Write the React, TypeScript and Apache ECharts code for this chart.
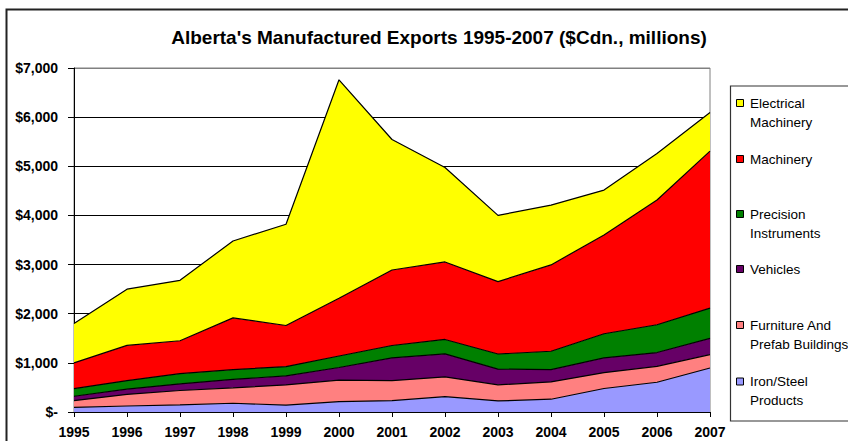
import React, { useEffect, useRef } from "react";
import * as echarts from "echarts";

const years = ["1995", "1996", "1997", "1998", "1999", "2000", "2001", "2002", "2003", "2004", "2005", "2006", "2007"];

const ironSteel = [95, 122, 143, 178, 140, 210, 232, 314, 225, 260, 478, 605, 895];
const furniture = [135, 236, 294, 314, 410, 440, 406, 400, 327, 352, 322, 325, 273];
const vehicles = [90, 107, 137, 171, 185, 255, 462, 468, 321, 249, 300, 280, 329];
const precision = [155, 175, 205, 199, 190, 235, 253, 294, 307, 375, 492, 566, 618];
const machinery = [525, 715, 671, 1053, 835, 1175, 1537, 1577, 1474, 1757, 2010, 2537, 3193];
const electrical = [800, 1145, 1230, 1565, 2060, 4445, 2655, 1923, 1346, 1218, 914, 948, 785];

const seriesNames = [
  "Iron/Steel Products",
  "Furniture And Prefab Buildings",
  "Vehicles",
  "Precision Instruments",
  "Machinery",
  "Electrical Machinery",
];
const legendLines = [
  ["Iron/Steel", "Products"],
  ["Furniture And", "Prefab Buildings"],
  ["Vehicles"],
  ["Precision", "Instruments"],
  ["Machinery"],
  ["Electrical", "Machinery"],
];
const seriesData = [ironSteel, furniture, vehicles, precision, machinery, electrical];
const seriesColors = ["#9999FF", "#FF8080", "#660066", "#008000", "#FF0000", "#FFFF00"];

const title = "Alberta's Manufactured Exports 1995-2007 ($Cdn., millions)";
const FONT = "'Liberation Sans', Arial, sans-serif";

export default function App() {
  const ref = useRef<HTMLDivElement>(null);

  useEffect(() => {
    if (!ref.current) return;
    const chart = echarts.init(ref.current, undefined, { renderer: "svg" });

    const legendEls: any[] = [];
    const legendY = [103, 159, 214, 269, 325, 381.5];
    for (let k = 0; k < seriesNames.length; k++) {
      const idx = seriesNames.length - 1 - k;
      const y = legendY[k];
      legendEls.push({
        type: "rect",
        shape: { x: 736.5, y: y - 3.5, width: 7, height: 7 },
        style: { fill: seriesColors[idx], stroke: "#000", lineWidth: 1 },
      });
      legendLines[idx].forEach((line, li) => {
        legendEls.push({
          type: "text",
          x: 750,
          y: y + li * 19,
          style: {
            text: line,
            fill: "#000",
            font: `13.5px ${FONT}`,
            textVerticalAlign: "middle",
            textAlign: "left",
          },
        });
      });
    }

    const option: any = {
      animation: false,
      backgroundColor: "#fff",
      title: {
        text: title,
        left: 434,
        top: 23,
        textAlign: "center",
        textStyle: { fontFamily: FONT, fontSize: 19, fontWeight: "bold", color: "#000" },
      },
      grid: {
        left: 74,
        top: 68,
        right: 138,
        bottom: 29,
        show: true,
        borderColor: "#808080",
        borderWidth: 1,
        backgroundColor: "transparent",
      },
      xAxis: {
        type: "category",
        data: years,
        boundaryGap: false,
        axisLine: { lineStyle: { color: "#000", width: 1 } },
        axisTick: { show: true, alignWithLabel: true, length: 5, lineStyle: { color: "#000" } },
        axisLabel: {
          color: "#000",
          fontFamily: FONT,
          fontSize: 14,
          fontWeight: "bold",
          margin: 13,
        },
        splitLine: { show: false },
      },
      yAxis: {
        type: "value",
        min: 0,
        max: 7000,
        interval: 1000,
        axisLine: { show: true, lineStyle: { color: "#000", width: 1 } },
        axisTick: { show: true, length: 6, lineStyle: { color: "#000" } },
        axisLabel: {
          color: "#000",
          fontFamily: FONT,
          fontSize: 14,
          fontWeight: "bold",
          margin: 16,
          formatter: (v: number) => (v === 0 ? "$-" : "$" + v.toLocaleString("en-US")),
        },
        splitLine: {
          show: true,
          lineStyle: {
            color: ["#000", "#000", "#000", "#000", "#000", "#000", "#000", "#808080"],
            width: 1,
          },
        },
      },
      series: seriesNames.map((name, i) => ({
        name,
        type: "line",
        stack: "total",
        data: seriesData[i],
        symbol: "none",
        showSymbol: false,
        lineStyle: { color: "#000", width: 1.2 },
        areaStyle: { color: seriesColors[i], opacity: 1 },
        itemStyle: { color: seriesColors[i] },
        z: 2,
      })),
      graphic: [
        {
          type: "rect",
          shape: { x: 6.5, y: 9.5, width: 1000, height: 1000 },
          style: { fill: "none", stroke: "#222", lineWidth: 2 },
          silent: true,
        },
        {
          type: "rect",
          shape: { x: 730.5, y: 86, width: 300, height: 335 },
          style: { fill: "#fff", stroke: "#333", lineWidth: 1.2 },
          silent: true,
        },
        ...legendEls,
      ],
    };
    chart.setOption(option);
    return () => chart.dispose();
  }, []);

  return (
    <div
      ref={ref}
      style={{ position: "absolute", left: 0, top: 0, width: 848, height: 441 }}
    />
  );
}
